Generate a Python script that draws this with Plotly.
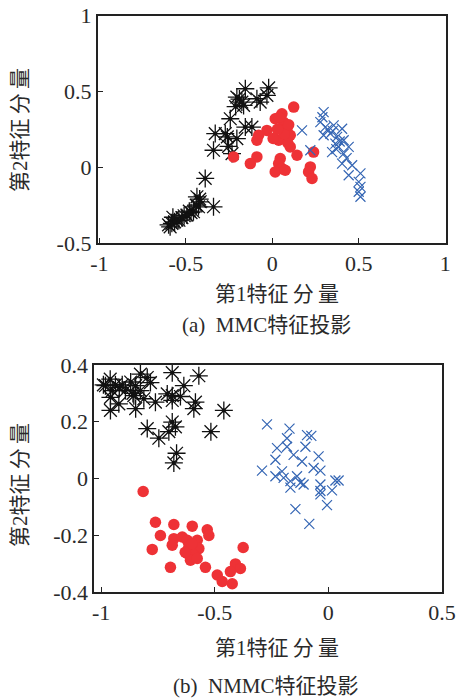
import plotly.graph_objects as go

# ---------------- data: (a) MMC ----------------
a_black_x = [-0.156, -0.021, -0.205, -0.176, -0.166, -0.089, -0.07, -0.031, -0.212, -0.19,
             -0.243, -0.156, -0.118, -0.33, -0.272, -0.205, -0.253, -0.34, -0.233, -0.26,
             -0.388, -0.436, -0.417, -0.427, -0.34, -0.456, -0.494, -0.523, -0.552, -0.581,
             -0.591, -0.47, -0.51, -0.54, -0.565, -0.44, -0.42, -0.60, -0.575, -0.48]
a_black_y = [0.518, 0.524, 0.463, 0.43, 0.408, 0.452, 0.43, 0.474, 0.40, 0.45,
             0.32, 0.265, 0.265, 0.222, 0.222, 0.189, 0.138, 0.112, 0.09, 0.20,
             -0.074, -0.195, -0.228, -0.261, -0.261, -0.294, -0.316, -0.333, -0.349, -0.370,
             -0.393, -0.30, -0.32, -0.35, -0.36, -0.25, -0.21, -0.38, -0.33, -0.29]

a_red_x = [0.124, 0.056, 0.017, 0.065, 0.085, 0.104, -0.031, -0.079, -0.089, 0.037,
           0.104, 0.09, 0.143, -0.089, -0.127, -0.224, 0.046, 0.037, 0.056, 0.017,
           0.075, 0.22, 0.21, 0.23, 0.239, 0.04, 0.07, 0.03, 0.095, 0.005]
a_red_y = [0.397, 0.353, 0.32, 0.298, 0.254, 0.211, 0.243, 0.211, 0.178, 0.178,
           0.134, 0.16, 0.079, 0.068, 0.024, 0.068, 0.057, 0.024, -0.009, -0.031,
           -0.02, 0.002, -0.031, -0.074, 0.1, 0.33, 0.22, 0.25, 0.28, 0.19]

a_blue_x = [0.297, 0.278, 0.307, 0.355, 0.404, 0.297, 0.336, 0.375, 0.413, 0.365,
            0.384, 0.442, 0.346, 0.413, 0.172, 0.22, 0.404, 0.462, 0.442, 0.51,
            0.5, 0.51, 0.5, 0.51, 0.29, 0.35, 0.39, 0.32, 0.37, 0.43]
a_blue_y = [0.364, 0.298, 0.265, 0.276, 0.254, 0.211, 0.222, 0.2, 0.178, 0.156,
            0.134, 0.134, 0.1, 0.09, 0.243, 0.112, 0.024, 0.013, -0.053, -0.041,
            -0.097, -0.13, -0.162, -0.195, 0.33, 0.24, 0.17, 0.25, 0.12, 0.06]

# ---------------- data: (b) NMMC ----------------
b_black_x = [-0.827, -0.687, -0.570, -0.797, -0.783, -0.981, -0.937, -0.907, -0.848, -0.636,
             -0.951, -0.893, -0.827, -0.709, -0.687, -0.651, -0.959, -0.856, -0.812, -0.761,
             -0.687, -0.585, -0.922, -0.46, -0.959, -0.848, -0.592, -0.797, -0.687, -0.673,
             -0.702, -0.746, -0.517, -0.668, -0.680, -0.99, -0.87, -0.92, -0.86, -0.96]
b_black_y = [0.368, 0.373, 0.362, 0.356, 0.338, 0.327, 0.330, 0.330, 0.327, 0.327,
             0.310, 0.310, 0.310, 0.298, 0.292, 0.289, 0.286, 0.292, 0.281, 0.269,
             0.275, 0.269, 0.263, 0.240, 0.240, 0.246, 0.246, 0.176, 0.199, 0.182,
             0.165, 0.142, 0.165, 0.089, 0.055, 0.33, 0.34, 0.32, 0.30, 0.35]

b_red_x = [-0.815, -0.761, -0.680, -0.599, -0.533, -0.526, -0.739, -0.680, -0.643, -0.621,
           -0.577, -0.687, -0.614, -0.570, -0.775, -0.621, -0.592, -0.607, -0.577, -0.375,
           -0.695, -0.541, -0.409, -0.387, -0.431, -0.489, -0.467, -0.423, -0.63, -0.60]
b_red_y = [-0.046, -0.154, -0.162, -0.168, -0.181, -0.201, -0.201, -0.212, -0.206, -0.218,
           -0.218, -0.235, -0.241, -0.247, -0.250, -0.264, -0.270, -0.288, -0.282, -0.243,
           -0.313, -0.313, -0.301, -0.317, -0.328, -0.340, -0.363, -0.371, -0.26, -0.23]

b_blue_x = [-0.27, -0.171, -0.182, -0.094, -0.075, -0.101, -0.226, -0.182, -0.153, -0.233,
            -0.116, -0.043, -0.065, -0.035, -0.292, -0.204, -0.233, -0.197, -0.138, -0.167,
            -0.123, -0.167, -0.109, -0.035, 0.031, 0.045, -0.035, 0.016, -0.035, -0.006,
            -0.145, -0.084]
b_blue_y = [0.191, 0.176, 0.142, 0.153, 0.15, 0.112, 0.107, 0.112, 0.083, 0.066,
            0.06, 0.078, 0.037, 0.028, 0.028, 0.025, 0.008, 0.002, 0.008, -0.009,
            -0.015, -0.032, -0.021, -0.021, -0.007, -0.007, -0.044, -0.042, -0.056, -0.094,
            -0.108, -0.16]

x_ticks_a = [-1, -0.5, 0, 0.5, 1]
y_ticks_a = [-0.5, 0, 0.5, 1]
x_ticks_b = [-1, -0.5, 0, 0.5]
y_ticks_b = [-0.4, -0.2, 0, 0.2, 0.4]

BLACK = "#111111"
RED = "#EE3236"
BLUE = "#3566B4"
TEXT = "#2a2a2a"
FONT = "Liberation Serif, Times New Roman, Noto Sans CJK SC, serif"

fig = go.Figure()


def add_group(xs, ys, xa, ya):
    bx, by, rx, ry, ux, uy = xs[0], ys[0], xs[1], ys[1], xs[2], ys[2]
    fig.add_trace(go.Scatter(x=bx, y=by, mode="markers", xaxis=xa, yaxis=ya,
                             marker=dict(symbol="asterisk-open", size=15, color=BLACK,
                                         line=dict(width=1.3, color=BLACK)),
                             showlegend=False))
    fig.add_trace(go.Scatter(x=bx, y=by, mode="markers", xaxis=xa, yaxis=ya,
                             marker=dict(symbol="circle", size=4, color=BLACK),
                             showlegend=False))
    fig.add_trace(go.Scatter(x=rx, y=ry, mode="markers", xaxis=xa, yaxis=ya,
                             marker=dict(symbol="circle", size=11.5, color=RED),
                             showlegend=False))
    fig.add_trace(go.Scatter(x=ux, y=uy, mode="markers", xaxis=xa, yaxis=ya,
                             marker=dict(symbol="x-thin-open", size=10, color=BLUE,
                                         line=dict(width=1.2, color=BLUE)),
                             showlegend=False))


add_group((a_black_x, a_red_x, a_blue_x), (a_black_y, a_red_y, a_blue_y), "x", "y")
add_group((b_black_x, b_red_x, b_blue_x), (b_black_y, b_red_y, b_blue_y), "x2", "y2")

W, H = 460, 699
axis_common = dict(showgrid=False, zeroline=False, showline=True, linecolor="#222222",
                   linewidth=1.8, mirror=True, ticks="inside", ticklen=5, tickwidth=1,
                   tickcolor="#222222", automargin=False,
                   tickfont=dict(family=FONT, size=22, color=TEXT))


def px_dom_x(l, r):
    return [l / W, r / W]


def px_dom_y(t, b):
    return [(H - b) / H, (H - t) / H]


fig.update_layout(
    template="none",
    width=W, height=H, margin=dict(l=0, r=0, t=0, b=0, pad=0, autoexpand=False),
    paper_bgcolor="white", plot_bgcolor="white", showlegend=False,
    xaxis=dict(axis_common, domain=px_dom_x(97.7, 446), range=[-1.01, 1.005],
               tickvals=x_ticks_a, ticktext=["-1", "-0.5", "0", "0.5", "1"], anchor="y"),
    yaxis=dict(axis_common, domain=px_dom_y(15.7, 243), range=[-0.5, 1.0],
               tickvals=y_ticks_a, ticktext=["-0.5", "0", "0.5", "1"], anchor="x"),
    xaxis2=dict(axis_common, domain=px_dom_x(94.3, 442), range=[-1.03, 0.5],
                tickvals=x_ticks_b, ticktext=["-1", "-0.5", "0", "0.5"], anchor="y2"),
    yaxis2=dict(axis_common, domain=px_dom_y(365, 592), range=[-0.4, 0.4],
                tickvals=y_ticks_b, ticktext=["-0.4", "-0.2", "0", "0.2", "0.4"], anchor="x2"),
)

ann_font = dict(family=FONT, size=21, color=TEXT)


def ann(text, x, y, angle=0):
    fig.add_annotation(text=text, x=x / W, y=(H - y) / H, xref="paper", yref="paper",
                       showarrow=False, font=ann_font, textangle=angle,
                       xanchor="center", yanchor="middle")


XT = "第1特征\u2009分\u2009量"
YT = "第2特征\u2009分\u2009量"
ann(XT, 277, 294)
ann("(a)  MMC特征投影", 266, 325)
ann(YT, 20, 130, -90)
ann(XT, 277, 648)
ann("(b)  NMMC特征投影", 266, 686)
ann(YT, 20, 485, -90)

fig.write_html("out.html", config={"displayModeBar": False},
               post_script="document.body.style.margin='0px';document.body.style.padding='0px';")
